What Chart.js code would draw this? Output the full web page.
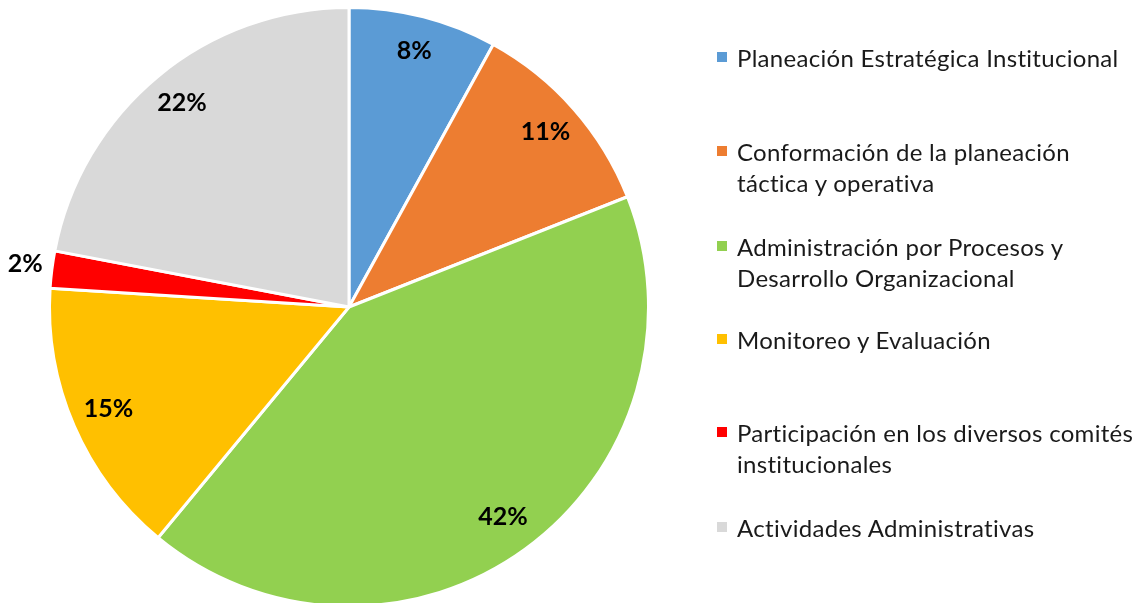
<!DOCTYPE html>
<html>
<head>
<meta charset="utf-8">
<script src="https://cdn.jsdelivr.net/npm/chart.js@4/dist/chart.umd.min.js"></script>
<style>
  html, body { margin: 0; padding: 0; width: 1142px; height: 603px; overflow: hidden; background: #fff; }
  #wrap { position: absolute; left: 0px; top: 6px; width: 698px; height: 602px; }
  #legend { position: absolute; left: 0; top: 0; width: 1142px; height: 603px; pointer-events: none;
    font-family: Lato, "Open Sans", sans-serif; font-size: 24px; letter-spacing: 0.3px; color: #1a1a1a; }
  .item { position: absolute; left: 737px; line-height: 31px; white-space: nowrap; }
  .sw { position: absolute; left: -20px; top: 10px; width: 10px; height: 10px; }
</style>
</head>
<body>
<div id="wrap"><canvas id="c"></canvas></div>
<div id="legend"></div>
<script>
const categories = [
  ["Planeación Estratégica Institucional"],
  ["Conformación de la planeación", "táctica y operativa"],
  ["Administración por Procesos  y", "Desarrollo Organizacional"],
  ["Monitoreo y Evaluación"],
  ["Participación en los diversos comités", "institucionales"],
  ["Actividades Administrativas"]
];
const values = [8, 11, 42, 15, 2, 22];
const colors = ["#5B9BD5", "#ED7D31", "#92D050", "#FFC000", "#FF0000", "#D9D9D9"];
const legendTops = [42, 136, 231, 324, 417, 512];

const labelPlugin = {
  id: 'pctLabels',
  afterDatasetsDraw(chart) {
    const ctx = chart.ctx;
    const meta = chart.getDatasetMeta(0);
    const total = values.reduce((a, b) => a + b, 0);
    ctx.save();
    ctx.font = "bold 25px Lato, 'Open Sans', sans-serif";
    ctx.fillStyle = "#000";
    ctx.textAlign = "center";
    ctx.textBaseline = "middle";
    meta.data.forEach((arc, i) => {
      const p = arc.getProps(['x', 'y', 'startAngle', 'endAngle', 'outerRadius'], true);
      const mid = (p.startAngle + p.endAngle) / 2;
      const pct = values[i] / total * 100;
      const f = pct < 5 ? 1.09 : 0.875;
      const x = p.x + Math.cos(mid) * p.outerRadius * f;
      const y = p.y + Math.sin(mid) * p.outerRadius * f;
      ctx.fillText(Math.round(pct) + "%", x, y - 2);
    });
    ctx.restore();
  }
};

new Chart(document.getElementById('c'), {
  type: 'pie',
  data: {
    labels: categories.map(c => c.join(' ')),
    datasets: [{
      data: values,
      backgroundColor: colors,
      borderColor: '#ffffff',
      borderWidth: 3
    }]
  },
  options: {
    responsive: true,
    maintainAspectRatio: false,
    animation: false,
    plugins: { legend: { display: false }, tooltip: { enabled: false } },
    layout: { padding: { left: 48, right: 48, top: 0, bottom: 0 } }
  },
  plugins: [labelPlugin]
});

const legend = document.getElementById('legend');
categories.forEach((lines, i) => {
  const d = document.createElement('div');
  d.className = 'item';
  d.style.top = legendTops[i] + 'px';
  const sw = document.createElement('span');
  sw.className = 'sw';
  sw.style.background = colors[i];
  d.appendChild(sw);
  lines.forEach((t, j) => {
    if (j) d.appendChild(document.createElement('br'));
    d.appendChild(document.createTextNode(t));
  });
  legend.appendChild(d);
});
</script>
</body>
</html>
